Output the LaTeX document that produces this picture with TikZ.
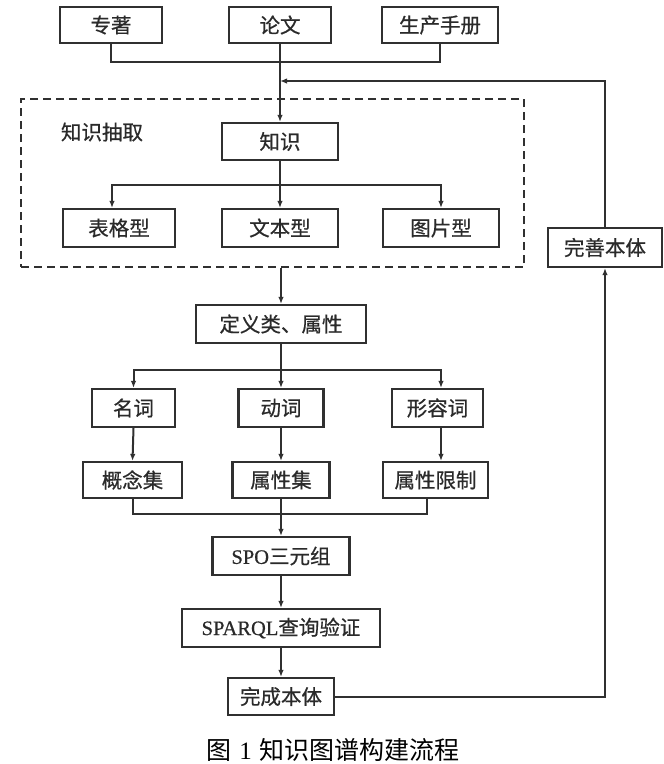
\documentclass[tikz,border=0pt]{standalone}
\usepackage{fontspec}
\setmainfont{Liberation Serif}
\newfontfamily\cjk[FakeBold=0.6]{Noto Sans CJK SC}
\newfontfamily\latb[FakeBold=0.6]{Liberation Serif}
\newfontfamily\cjkcap{Noto Sans CJK SC}
\usetikzlibrary{arrows.meta,calc}
\definecolor{linec}{HTML}{303030}
\definecolor{txtc}{HTML}{2A2A2A}
\begin{document}
\begin{tikzpicture}[x=1pt,y=-1pt,
  box/.style={draw=linec, line width=2.2pt, inner sep=0pt, text=txtc,
    font=\cjk\fontsize{20.5}{24}\selectfont},
  ln/.style={draw=linec, line width=2pt},
  arr/.style={-{Latex[length=7pt,width=5.5pt]}},
  dashbox/.style={draw=linec, line width=2.2pt, dash pattern=on 8pt off 5pt, inner sep=0pt}
]
\fill[white] (0,0) rectangle (664,764);
\useasboundingbox (0,0) rectangle (664,764);

% top sources
\node[box, minimum width=102pt, minimum height=36pt] (zz) at (111,25) {专著};
\node[box, minimum width=102pt, minimum height=36pt] (lw) at (280,25) {论文};
\node[box, minimum width=116pt, minimum height=36pt] (sc) at (440,25) {生产手册};

% extraction group
\node[dashbox, minimum width=503pt, minimum height=168pt] (ext) at (272.5,183) {};
\node[text=txtc, font=\cjk\fontsize{20.5}{24}\selectfont] (extl) at (102,132) {知识抽取};
\node[box, minimum width=116pt, minimum height=37pt] (zs) at (280,141.5) {知识};
\node[box, minimum width=112pt, minimum height=38pt] (bg) at (119,228) {表格型};
\node[box, minimum width=116pt, minimum height=38pt] (wb) at (280,228) {文本型};
\node[box, minimum width=116pt, minimum height=38pt] (tp) at (441,228) {图片型};

\node[box, minimum width=114pt, minimum height=39pt] (ws) at (605,247.5) {完善本体};

% definition stage
\node[box, minimum width=170pt, minimum height=38pt] (dy) at (281,324) {定义类、属性};
\node[box, minimum width=83pt, minimum height=38pt] (mc) at (133.5,408) {名词};
\node[box, minimum width=85pt, minimum height=38pt] (dc) at (281,408) {动词};
\node[box, minimum width=91pt, minimum height=38pt] (xr) at (437.5,408) {形容词};
\node[box, minimum width=99pt, minimum height=36pt] (gn) at (132.5,480) {概念集};
\node[box, minimum width=97pt, minimum height=36pt] (sx) at (281,480) {属性集};
\node[box, minimum width=105pt, minimum height=36pt] (xz) at (435.5,480) {属性限制};

\node[box, minimum width=137pt, minimum height=38pt] (spo) at (281,556) {{\latb SPO}三元组};
\node[box, minimum width=198pt, minimum height=38pt] (sq) at (281,628) {{\latb SPARQL}查询验证};
\node[box, minimum width=106pt, minimum height=37pt] (wc) at (281,696.5) {完成本体};

\node[text=black, font=\cjkcap\fontsize{25}{30}\selectfont] (cap) at (333,750) {图\hspace{0.3em}{\rmfamily 1}\hspace{0.3em}知识图谱构建流程};

% connectors
\draw[ln] (zz.south) -- ++(0,18) -| (sc.south);
\draw[ln,arr] (lw.south) -- (zs.north);
\draw[ln,arr] (wc.east) -| (ws.south);
\draw[ln,arr] (ws.north) |- (lw.south |- 0,81);

\draw[ln,arr] (zs.south) -- (wb.north);
\draw[ln,arr] (zs.south) ++(0,24) -| ([xshift=-7pt]bg.north);
\draw[ln,arr] (zs.south) ++(0,24) -| (tp.north);

\draw[ln,arr] (ext.south -| dy.north) -- (dy.north);

\draw[ln,arr] (dy.south) -- (dc.north);
\draw[ln,arr] (dy.south) ++(0,26) -| (mc.north);
\draw[ln,arr] (dy.south) ++(0,26) -| ([xshift=3.5pt]xr.north);

\draw[ln,arr] (mc.south) -- (gn.north);
\draw[ln,arr] (dc.south) -- (sx.north);
\draw[ln,arr] ([xshift=3.5pt]xr.south) -- ([xshift=3.5pt]xr.south |- xz.north);

\draw[ln] (gn.south) -- ++(0,15) -| ([xshift=-8.5pt]xz.south);
\draw[ln,arr] (sx.south) -- (spo.north);
\draw[ln,arr] (spo.south) -- (sq.north);
\draw[ln,arr] (sq.south) -- (wc.north);
\end{tikzpicture}
\end{document}
